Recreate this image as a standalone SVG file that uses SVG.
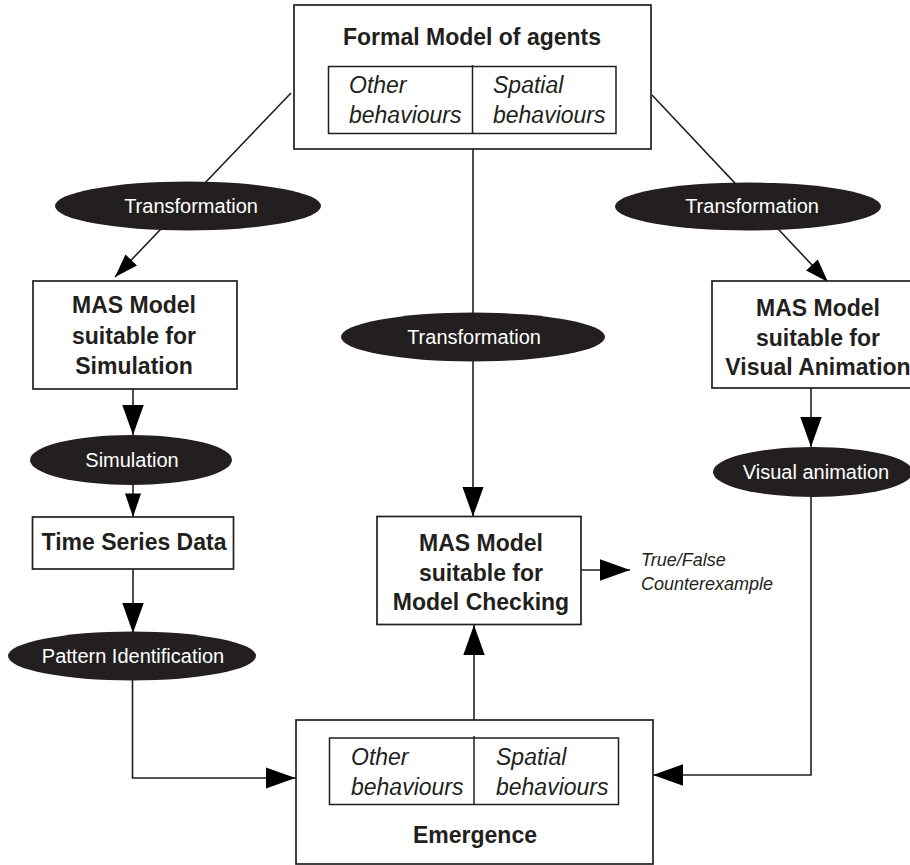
<svg xmlns="http://www.w3.org/2000/svg" width="910" height="865" viewBox="0 0 910 865">
  <style>
    .box { fill: #ffffff; stroke: #231f20; stroke-width: 1.7; }
    .inner { fill: none; stroke: #231f20; stroke-width: 1.5; }
    .proc { fill: #231f20; }
    .title { font-family: "Liberation Sans", Arial, sans-serif; font-weight: bold; font-size: 23px; fill: #231f20; text-anchor: middle; }
    .beh { font-family: "Liberation Sans", Arial, sans-serif; font-style: italic; font-size: 23px; fill: #231f20; }
    .op { font-family: "Liberation Sans", Arial, sans-serif; font-size: 20px; fill: #ffffff; text-anchor: middle; }
    .note { font-family: "Liberation Sans", Arial, sans-serif; font-style: italic; font-size: 18px; fill: #231f20; }
    .edge { fill: none; stroke: #231f20; stroke-width: 1.6; }
  </style>
  <defs>
    <marker id="arrowS" markerUnits="userSpaceOnUse" markerWidth="24" markerHeight="16" viewBox="0 0 22 15" refX="22" refY="7.5" orient="auto">
      <path d="M0,0 L22,7.5 L0,15 Z" fill="#000000"/>
    </marker>
    <marker id="arrowL" markerUnits="userSpaceOnUse" markerWidth="30" markerHeight="22" viewBox="0 0 28 20" refX="28" refY="10" orient="auto">
      <path d="M0,0 L28,10 L0,20 Z" fill="#000000"/>
    </marker>
  </defs>

  <rect width="910" height="865" fill="#ffffff"/>

  <!-- connectors (drawn first so process ellipses sit on top) -->
  <g id="connectors">
    <line class="edge" x1="291" y1="93" x2="115" y2="277" marker-end="url(#arrowS)"/>
    <line class="edge" x1="652" y1="95" x2="828" y2="282" marker-end="url(#arrowS)"/>
    <line class="edge" x1="473" y1="149" x2="473" y2="516.5" marker-end="url(#arrowL)"/>
    <line class="edge" x1="133" y1="389" x2="133" y2="435" marker-end="url(#arrowL)"/>
    <line class="edge" x1="133" y1="485" x2="133" y2="517" marker-end="url(#arrowS)"/>
    <line class="edge" x1="133" y1="569" x2="133" y2="633" marker-end="url(#arrowL)"/>
    <polyline class="edge" points="132.5,680 132.5,778 295.5,778" marker-end="url(#arrowL)"/>
    <line class="edge" x1="811" y1="388" x2="811" y2="447" marker-end="url(#arrowL)"/>
    <polyline class="edge" points="811,496 811,775 653,775" marker-end="url(#arrowL)"/>
    <line class="edge" x1="474" y1="720" x2="474" y2="625" marker-end="url(#arrowL)"/>
    <line class="edge" x1="581" y1="570" x2="630" y2="570" marker-end="url(#arrowL)"/>
  </g>

  <g id="formal-model">
    <rect class="box" x="294" y="5" width="357" height="144"/>
    <text class="title" x="472" y="45">Formal Model of agents</text>
    <rect class="inner" x="328.5" y="66.5" width="287.5" height="67"/>
    <line class="inner" x1="472.5" y1="65" x2="472.5" y2="133.5"/>
    <text class="beh" x="349" y="93">Other</text>
    <text class="beh" x="349" y="123">behaviours</text>
    <text class="beh" x="493" y="93">Spatial</text>
    <text class="beh" x="493" y="123">behaviours</text>
  </g>

  <g id="transform-sim">
    <ellipse class="proc" cx="188" cy="206" rx="133" ry="24.5"/>
    <text class="op" x="191" y="213">Transformation</text>
  </g>

  <g id="transform-mc">
    <ellipse class="proc" cx="473" cy="337" rx="132" ry="24.5"/>
    <text class="op" x="474" y="344">Transformation</text>
  </g>

  <g id="transform-anim">
    <ellipse class="proc" cx="748" cy="206.5" rx="133" ry="24"/>
    <text class="op" x="752" y="213">Transformation</text>
  </g>

  <g id="mas-simulation">
    <rect class="box" x="33" y="281" width="204" height="108"/>
    <text class="title" x="134" y="313">MAS Model</text>
    <text class="title" x="134" y="344">suitable for</text>
    <text class="title" x="134" y="374">Simulation</text>
  </g>

  <g id="mas-animation">
    <rect class="box" x="712" y="281" width="205" height="107"/>
    <text class="title" x="818" y="316">MAS Model</text>
    <text class="title" x="818" y="346">suitable for</text>
    <text class="title" x="818" y="375">Visual Animation</text>
  </g>

  <g id="simulation">
    <ellipse class="proc" cx="131" cy="460" rx="101" ry="25"/>
    <text class="op" x="132" y="467">Simulation</text>
  </g>

  <g id="visual-animation">
    <ellipse class="proc" cx="813" cy="472" rx="100" ry="25"/>
    <text class="op" x="816" y="479">Visual animation</text>
  </g>

  <g id="time-series">
    <rect class="box" x="32.5" y="517" width="201" height="52"/>
    <text class="title" x="134" y="550">Time Series Data</text>
  </g>

  <g id="pattern-identification">
    <ellipse class="proc" cx="132" cy="656" rx="124" ry="24.5"/>
    <text class="op" x="133" y="663">Pattern Identification</text>
  </g>

  <g id="mas-model-checking">
    <rect class="box" x="377" y="516.5" width="204" height="108"/>
    <text class="title" x="481" y="551">MAS Model</text>
    <text class="title" x="481" y="581">suitable for</text>
    <text class="title" x="481" y="610">Model Checking</text>
  </g>

  <g id="result">
    <text class="note" x="641" y="566">True/False</text>
    <text class="note" x="641" y="590">Counterexample</text>
  </g>

  <g id="emergence">
    <rect class="box" x="296" y="720" width="357" height="144"/>
    <rect class="inner" x="329.5" y="738" width="289" height="66.5"/>
    <line class="inner" x1="474" y1="736" x2="474" y2="804.5"/>
    <text class="beh" x="351" y="765">Other</text>
    <text class="beh" x="351" y="795">behaviours</text>
    <text class="beh" x="496" y="765">Spatial</text>
    <text class="beh" x="496" y="795">behaviours</text>
    <text class="title" x="475" y="843">Emergence</text>
  </g>
</svg>
